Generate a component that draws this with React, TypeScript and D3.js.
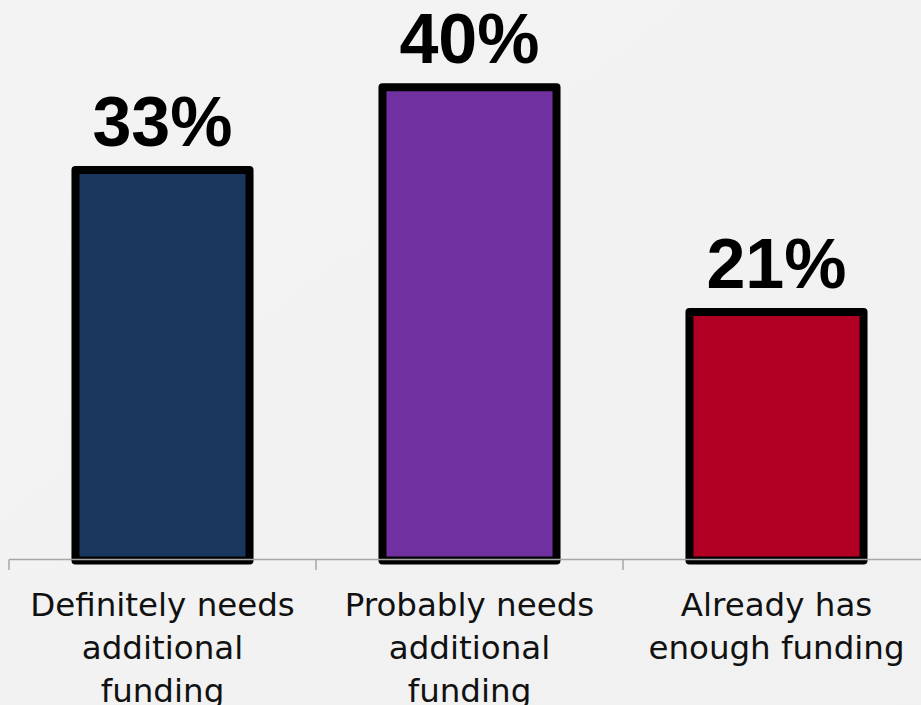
import React from "react";
import * as d3 from "d3";

const categories: string[][] = [
  ["Definitely needs", "additional", "funding"],
  ["Probably needs", "additional", "funding"],
  ["Already has", "enough funding"],
];
const values: number[] = [33, 40, 21];
const barColors: string[] = ["#19375c", "#7030a0", "#b20024"];

const W = 921;
const H = 705;

export default function App() {
  const keys = categories.map((_, i) => String(i));
  const x = d3.scaleBand<string>().domain(keys).range([9, 930]).paddingInner(0.433).paddingOuter(0.2165);
  const y = d3.scaleLinear().domain([0, 45]).range([560.5, 28.1]);
  const step = x.step();
  const ticks = [0, 1, 2, 3].map((i) => 9 + i * step);

  return (
    <svg width={W} height={H} style={{ position: "absolute", left: 0, top: 0 }}>
      <defs>
        <linearGradient id="bg" x1="0" y1="0" x2="1" y2="1">
          <stop offset="0" stopColor="#f3f3f3" />
          <stop offset="1" stopColor="#f1f1f1" />
        </linearGradient>
      </defs>
      <rect x={0} y={0} width={W} height={H} fill="url(#bg)" />
      {values.map((v, i) => {
        const bx = x(String(i))!;
        const bw = x.bandwidth();
        return (
          <g key={i}>
            <rect
              x={bx}
              y={y(v)}
              width={bw}
              height={y(0) - y(v)}
              fill={barColors[i]}
              stroke="#000"
              strokeWidth={8}
              strokeLinejoin="round"
            />
            <text
              x={bx + bw / 2}
              y={y(v) - 24}
              textAnchor="middle"
              fontFamily="Liberation Sans, Arial, sans-serif"
              fontWeight="bold"
              fontSize={70}
              fill="#000"
            >
              {v}%
            </text>
          </g>
        );
      })}
      <line x1={9} x2={W} y1={559.5} y2={559.5} stroke="#a6a6a6" strokeWidth={1.5} />
      {ticks.map((t, i) => (
        <line key={i} x1={t} x2={t} y1={559.5} y2={570} stroke="#a6a6a6" strokeWidth={1.5} />
      ))}
      {categories.map((lines, i) => {
        const cx = x(String(i))! + x.bandwidth() / 2;
        return (
          <text
            key={i}
            textAnchor="middle"
            fontFamily="DejaVu Sans, sans-serif"
            fontSize={32.5}
            fill="#111"
          >
            {lines.map((l, j) => (
              <tspan key={j} x={cx} y={616 + j * 43}>
                {l}
              </tspan>
            ))}
          </text>
        );
      })}
    </svg>
  );
}
